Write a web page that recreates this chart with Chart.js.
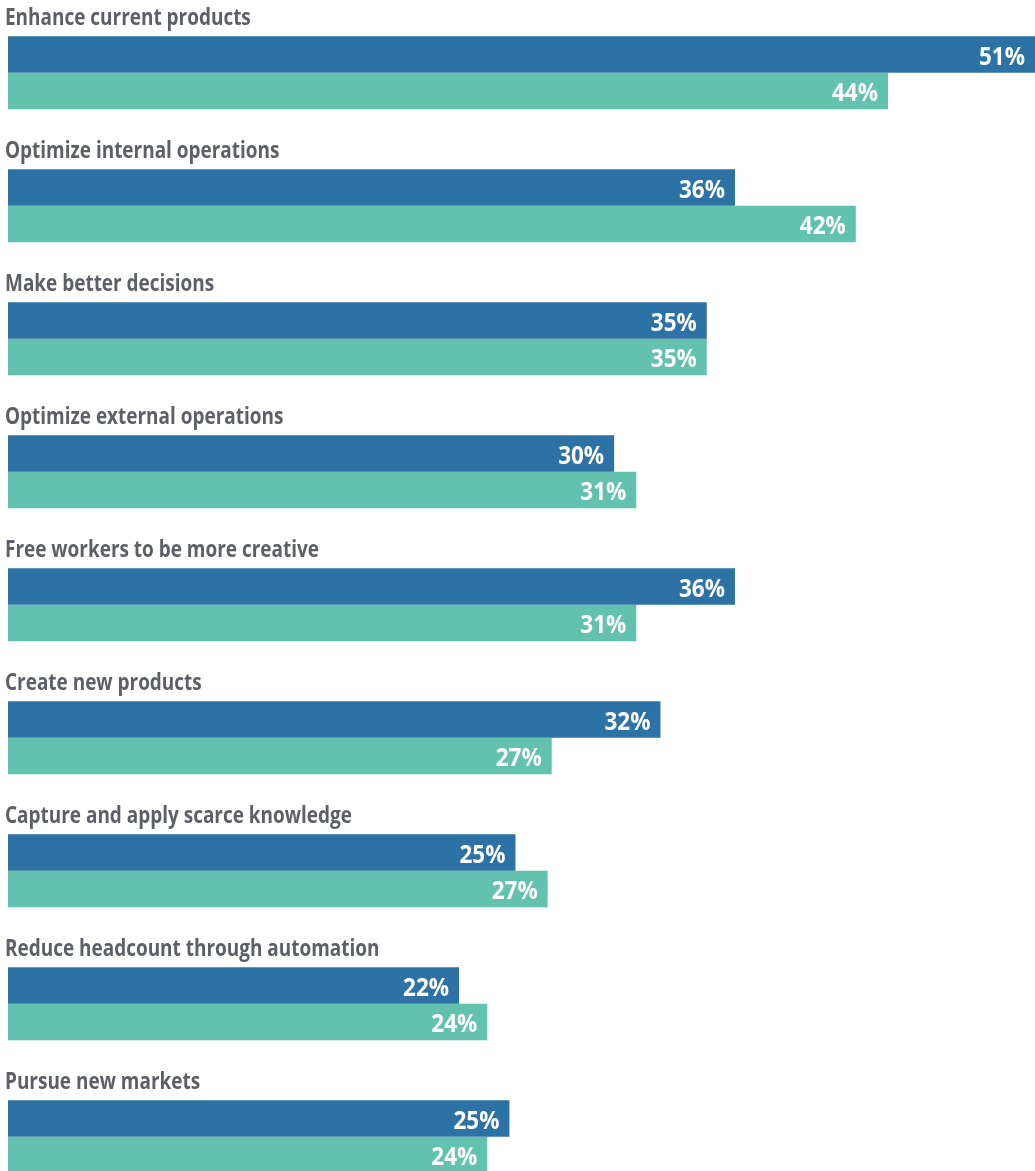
<!DOCTYPE html>
<html>
<head>
<meta charset="utf-8">
<script src="https://cdn.jsdelivr.net/npm/chart.js@4.4.1/dist/chart.umd.min.js"></script>
<style>
  html, body { margin: 0; padding: 0; background: #fff; }
  #wrap { width: 1035px; height: 1171px; position: relative; }
</style>
</head>
<body>
<div id="wrap"><canvas id="goalsChart"></canvas></div>
<script>
// categories, top to bottom
const categories = [
  'Enhance current products',
  'Optimize internal operations',
  'Make better decisions',
  'Optimize external operations',
  'Free workers to be more creative',
  'Create new products',
  'Capture and apply scarce knowledge',
  'Reduce headcount through automation',
  'Pursue new markets'
];
// values (labels show them rounded)
const darkSeries = [51.0, 36.1, 34.7, 30.1, 36.1, 32.4, 25.2, 22.4, 24.9];
const tealSeries = [43.7, 42.1, 34.7, 31.2, 31.2, 27.0, 26.8, 23.8, 23.8];
const axisMax = 51;

// category text above each group + value text inside bar ends
const barText = {
  id: 'barText',
  afterDatasetsDraw(chart) {
    const ctx = chart.ctx;
    const first = chart.getDatasetMeta(0).data;
    ctx.save();
    ctx.fillStyle = '#5e5f66';
    ctx.font = 'bold 24px "Open Sans"';
    ctx.textBaseline = 'alphabetic';
    first.forEach((bar, i) => {
      const top = bar.y - bar.height / 2;
      ctx.save();
      ctx.translate(chart.chartArea.left - 3, top - 11);
      ctx.scale(0.79, 1);
      ctx.fillText(categories[i], 0, 0);
      ctx.restore();
    });

    ctx.fillStyle = '#ffffff';
    ctx.font = 'bold 25px "Open Sans"';
    ctx.textAlign = 'right';
    ctx.textBaseline = 'middle';
    chart.data.datasets.forEach((ds, d) => {
      chart.getDatasetMeta(d).data.forEach((bar, i) => {
        ctx.save();
        ctx.translate(bar.x - 10, bar.y + 3);
        ctx.scale(0.9, 1);
        ctx.fillText(Math.round(ds.data[i]) + '%', 0, 0);
        ctx.restore();
      });
    });
    ctx.restore();
  }
};

const ctx = document.getElementById('goalsChart').getContext('2d');
new Chart(ctx, {
  type: 'bar',
  data: {
    labels: categories,
    datasets: [
      { data: darkSeries, backgroundColor: '#2c72a4', clip: false },
      { data: tealSeries, backgroundColor: '#63c2ae', clip: false }
    ]
  },
  options: {
    indexAxis: 'y',
    responsive: true,
    maintainAspectRatio: false,
    animation: false,
    categoryPercentage: 0.549,
    barPercentage: 1.0,
    layout: { padding: { left: 8, right: 0, top: 72.7, bottom: 34.3 } },
    plugins: { legend: { display: false }, tooltip: { enabled: false } },
    scales: {
      x: { type: 'linear', min: 0, max: axisMax, display: false },
      y: { offset: false, display: false }
    }
  },
  plugins: [barText]
});
</script>
</body>
</html>
